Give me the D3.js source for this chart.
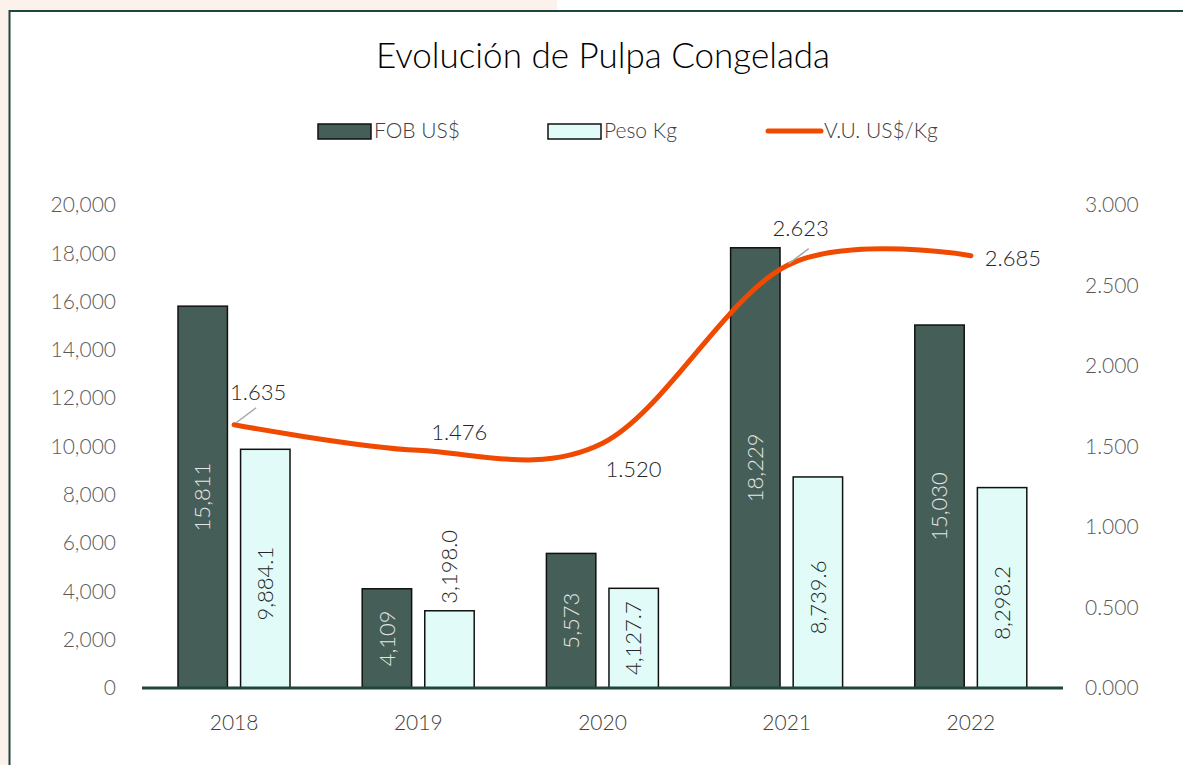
<!DOCTYPE html>
<html>
<head>
<meta charset="utf-8">
<script src="https://cdn.jsdelivr.net/npm/d3@7"></script>
<style>
  body { margin: 0; background: #fff; }
  svg text { font-family: Lato, "Noto Sans", sans-serif; font-weight: 300; }
</style>
</head>
<body>
<svg id="chart" width="1183" height="765"></svg>
<script>
const years = ['2018', '2019', '2020', '2021', '2022'];
const fobValues = [15811, 4109, 5573, 18229, 15030];
const pesoValues = [9884.1, 3198.0, 4127.7, 8739.6, 8298.2];
const vuValues = [1.635, 1.476, 1.520, 2.623, 2.685];
const leftTicks = [0, 2000, 4000, 6000, 8000, 10000, 12000, 14000, 16000, 18000, 20000];
const rightTicks = [0, 0.5, 1, 1.5, 2, 2.5, 3];

// where each V.U. label sits relative to its point (dx, dy) and whether it gets a leader line
const vuLabelOffsets = [[24, -32, true], [41, -18, false], [31, 26, false], [14, -37, true], [42, 3, false]];

const width = 1183, height = 765;
const svg = d3.select('#chart');

// page background strips and frame
svg.append('rect').attr('x', 0).attr('y', 0).attr('width', 9).attr('height', height).attr('fill', '#fdf1ec');
svg.append('rect').attr('x', 0).attr('y', 0).attr('width', 557).attr('height', 10).attr('fill', '#fdf1ec');
svg.append('line').attr('x1', 9.5).attr('x2', 9.5).attr('y1', 10).attr('y2', height)
  .attr('stroke', '#1d463d').attr('stroke-width', 2);
svg.append('line').attr('x1', 9).attr('x2', width).attr('y1', 11).attr('y2', 11)
  .attr('stroke', '#1d463d').attr('stroke-width', 2);

// title
svg.append('text').attr('x', 603).attr('y', 68)
  .attr('text-anchor', 'middle').style('font-size', '35px').attr('fill', '#000')
  .text('Evolución de Pulpa Congelada');

// scales
const x = d3.scaleBand().domain(years).range([142, 1063]).padding(0);
const xSub = d3.scaleBand().domain(['fob', 'peso']).range([36, 148]).paddingInner(0.21);
const yLeft = d3.scaleLinear().domain([0, 20000]).range([688, 205]);
const yRight = d3.scaleLinear().domain([0, 3]).range([688, 205]);

// axes
const leftAxis = svg.append('g').attr('transform', 'translate(116,0)')
  .call(d3.axisLeft(yLeft).tickValues(leftTicks).tickFormat(d3.format(',')).tickSize(0).tickPadding(0));
const rightAxis = svg.append('g').attr('transform', 'translate(1085,0)')
  .call(d3.axisRight(yRight).tickValues(rightTicks).tickFormat(d3.format('.3f')).tickSize(0).tickPadding(0));
[leftAxis, rightAxis].forEach(g => {
  g.select('.domain').remove();
  g.selectAll('text').style('font-size', '21px').attr('fill', '#595959').attr('font-family', null);
});

// bars
const fobColor = '#465e58', pesoColor = '#e1fcf8';
const groups = svg.append('g');
groups.selectAll('rect.fob')
  .data(fobValues).enter().append('rect')
  .attr('class', 'fob')
  .attr('x', (d, i) => x(years[i]) + xSub('fob'))
  .attr('y', d => yLeft(d))
  .attr('width', xSub.bandwidth())
  .attr('height', d => yLeft(0) - yLeft(d))
  .attr('fill', fobColor).attr('stroke', '#111').attr('stroke-width', 1.5);

groups.selectAll('rect.peso')
  .data(pesoValues).enter().append('rect')
  .attr('class', 'peso')
  .attr('x', (d, i) => x(years[i]) + xSub('peso'))
  .attr('y', d => yLeft(d))
  .attr('width', xSub.bandwidth())
  .attr('height', d => yLeft(0) - yLeft(d))
  .attr('fill', pesoColor).attr('stroke', '#111').attr('stroke-width', 1.5);

// baseline
svg.append('line').attr('x1', 142).attr('x2', 1063).attr('y1', yLeft(0)).attr('y2', yLeft(0))
  .attr('stroke', '#1d463d').attr('stroke-width', 3);

// bar labels (rotated)
const fmtFob = d3.format(',');
const fmtPeso = d3.format(',.1f');
svg.selectAll('text.fobLabel')
  .data(fobValues).enter().append('text')
  .attr('class', 'fobLabel')
  .attr('transform', (d, i) => {
    const cx = x(years[i]) + xSub('fob') + xSub.bandwidth() / 2;
    const cy = (yLeft(d) + yLeft(0)) / 2;
    return `translate(${cx},${cy}) rotate(-90)`;
  })
  .attr('text-anchor', 'middle').attr('dy', '0.35em')
  .style('font-size', '22px').attr('fill', '#e6e6e6')
  .text(d => fmtFob(d));

svg.selectAll('text.pesoLabel')
  .data(pesoValues).enter().append('text')
  .attr('class', 'pesoLabel')
  .attr('transform', (d, i) => {
    const cx = x(years[i]) + xSub('peso') + xSub.bandwidth() / 2;
    const h = yLeft(0) - yLeft(d);
    let cy;
    if (h < 90) cy = yLeft(d) - 44;
    else if (h < 120) cy = (yLeft(d) + yLeft(0)) / 2;
    else cy = (yLeft(d) + yLeft(0)) / 2 + 15;
    return `translate(${cx},${cy}) rotate(-90)`;
  })
  .attr('text-anchor', 'middle').attr('dy', '0.35em')
  .style('font-size', '22px').attr('fill', '#262626')
  .text(d => fmtPeso(d));

// V.U. line
const cx = i => x(years[i]) + x.bandwidth() / 2;
const line = d3.line()
  .x((d, i) => cx(i))
  .y(d => yRight(d))
  .curve(d3.curveCardinal.tension(0));
svg.append('path').datum(vuValues)
  .attr('d', line)
  .attr('fill', 'none').attr('stroke', '#f04a00').attr('stroke-width', 5)
  .attr('stroke-linecap', 'round');

// V.U. labels
vuValues.forEach((v, i) => {
  const [dx, dy, leader] = vuLabelOffsets[i];
  const px = cx(i), py = yRight(v);
  if (leader) {
    svg.append('line').attr('x1', px + 2).attr('y1', py - 2)
      .attr('x2', px + 22).attr('y2', py - 17)
      .attr('stroke', '#a6a6a6').attr('stroke-width', 1.5);
  }
  svg.append('text')
    .attr('x', px + dx).attr('y', py + dy)
    .attr('text-anchor', 'middle').attr('dy', '0.35em')
    .style('font-size', '22px').attr('fill', '#262626')
    .text(d3.format('.3f')(v));
});

// year labels
svg.selectAll('text.year')
  .data(years).enter().append('text')
  .attr('class', 'year')
  .attr('x', d => x(d) + x.bandwidth() / 2)
  .attr('y', 723).attr('dy', '0.35em')
  .attr('text-anchor', 'middle')
  .style('font-size', '21px').attr('fill', '#404040')
  .text(d => d);

// legend
const legend = svg.append('g');
const legendItems = [
  { name: 'FOB US$', type: 'bar', color: fobColor, x: 318 },
  { name: 'Peso Kg', type: 'bar', color: pesoColor, x: 548 },
  { name: 'V.U. US$/Kg', type: 'line', color: '#f04a00', x: 768 }
];
legendItems.forEach(it => {
  if (it.type === 'bar') {
    legend.append('rect').attr('x', it.x).attr('y', 124).attr('width', 53).attr('height', 15)
      .attr('fill', it.color).attr('stroke', '#111').attr('stroke-width', 1.5);
  } else {
    legend.append('line').attr('x1', it.x).attr('x2', it.x + 53).attr('y1', 131).attr('y2', 131)
      .attr('stroke', it.color).attr('stroke-width', 5).attr('stroke-linecap', 'round');
  }
  legend.append('text').attr('x', it.x + 56).attr('y', 131).attr('dy', '0.35em')
    .style('font-size', '21px').attr('fill', '#404040')
    .text(it.name);
});
</script>
</body>
</html>
